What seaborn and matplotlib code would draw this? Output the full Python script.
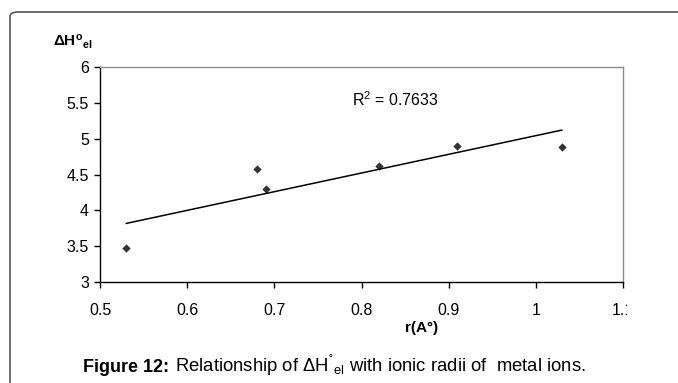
import matplotlib
matplotlib.use("Agg")
import matplotlib.pyplot as plt
import seaborn as sns
import pandas as pd
from matplotlib.patches import FancyBboxPatch
from matplotlib.transforms import Bbox, TransformedBbox

# Data
radius = [0.53, 0.68, 0.69, 0.82, 0.91, 1.03]
delta_h = [3.47, 4.58, 4.30, 4.62, 4.90, 4.89]
x_ticks = [0.5, 0.6, 0.7, 0.8, 0.9, 1.0, 1.1]
x_ticklabels = ["0.5", "0.6", "0.7", "0.8", "0.9", "1", "1.1"]
y_ticks = [3, 3.5, 4, 4.5, 5, 5.5, 6]
y_ticklabels = ["3", "3.5", "4", "4.5", "5", "5.5", "6"]
r2_text = "R$^2$ = 0.7633"

sns.set_theme(style="white")
plt.rcParams['font.family'] = ['Liberation Sans', 'DejaVu Sans']
plt.rcParams['mathtext.fontset'] = 'custom'
plt.rcParams['mathtext.rm'] = 'Liberation Sans'
plt.rcParams['mathtext.it'] = 'Liberation Sans'
plt.rcParams['mathtext.bf'] = 'Liberation Sans:bold'

df = pd.DataFrame({"r": radius, "dH": delta_h})

W, H = 678, 383
fig = plt.figure(figsize=(W/100, H/100), dpi=100)
ax = fig.add_axes([100/W, 1-282/H, 523/W, 215/H])

sns.regplot(data=df, x="r", y="dH", ax=ax, ci=None, truncate=True,
            marker="D", color="black",
            scatter_kws={"s": 18, "linewidths": 0, "zorder": 3},
            line_kws={"lw": 1.1, "color": "black"})

ax.set_xlim(0.5, 1.1)
ax.set_ylim(3, 6)
ax.set_xticks(x_ticks)
ax.set_xticklabels(x_ticklabels)
ax.set_yticks(y_ticks)
ax.set_yticklabels(y_ticklabels)
ax.set_xlabel("")
ax.set_ylabel("")
ax.tick_params(axis="both", which="major", direction="out", length=4, width=1,
               color="black", labelsize=11.5, labelcolor="black", pad=4,
               left=True, bottom=True)
ax.tick_params(axis="x", pad=11)
for s in ["left", "bottom"]:
    ax.spines[s].set_color("black")
    ax.spines[s].set_linewidth(1.0)
for s in ["top", "right"]:
    ax.spines[s].set_color("#8c8c8c")
    ax.spines[s].set_linewidth(1.0)
ax.grid(False)

clip = TransformedBbox(Bbox([[0, 0], [627/W, 1]]), fig.transFigure)
for lab in ax.get_xticklabels():
    lab.set_clip_on(True)
    lab.set_clip_box(clip)

ax.text(0.789, 5.54, r2_text, fontsize=11.5, va="center", ha="left", color="black")

fig.text(53/W, 1-46/H, r"$\mathbf{\Delta H^{o}{}_{el}}$", fontsize=11,
         ha="left", va="baseline", color="black")
fig.text(422/W, 1-328/H, "r(A°)", fontsize=11, fontweight="bold",
         ha="center", va="center", color="black")

cap_y = 1 - 372/H
t1 = fig.text(83/W, cap_y, "Figure 12:", fontsize=13, fontweight="bold",
              ha="left", va="baseline", color="black")
fig.canvas.draw()
bb = t1.get_window_extent()
fig.text((bb.x1 + 6)/W, cap_y,
         r"Relationship of $\Delta$H${}^{˚}{}_{el}$ with ionic radii of  metal ions.",
         fontsize=13.3, ha="left", va="baseline", color="black")

box = FancyBboxPatch((10/W, -0.2), 1.2, 1 - 12/H + 0.2,
                     boxstyle="round,pad=0,rounding_size=0.012",
                     transform=fig.transFigure, facecolor="none",
                     edgecolor="#555555", linewidth=1.2, clip_on=False)
fig.patches.append(box)

fig.savefig("out.png", dpi=100, facecolor="white")
